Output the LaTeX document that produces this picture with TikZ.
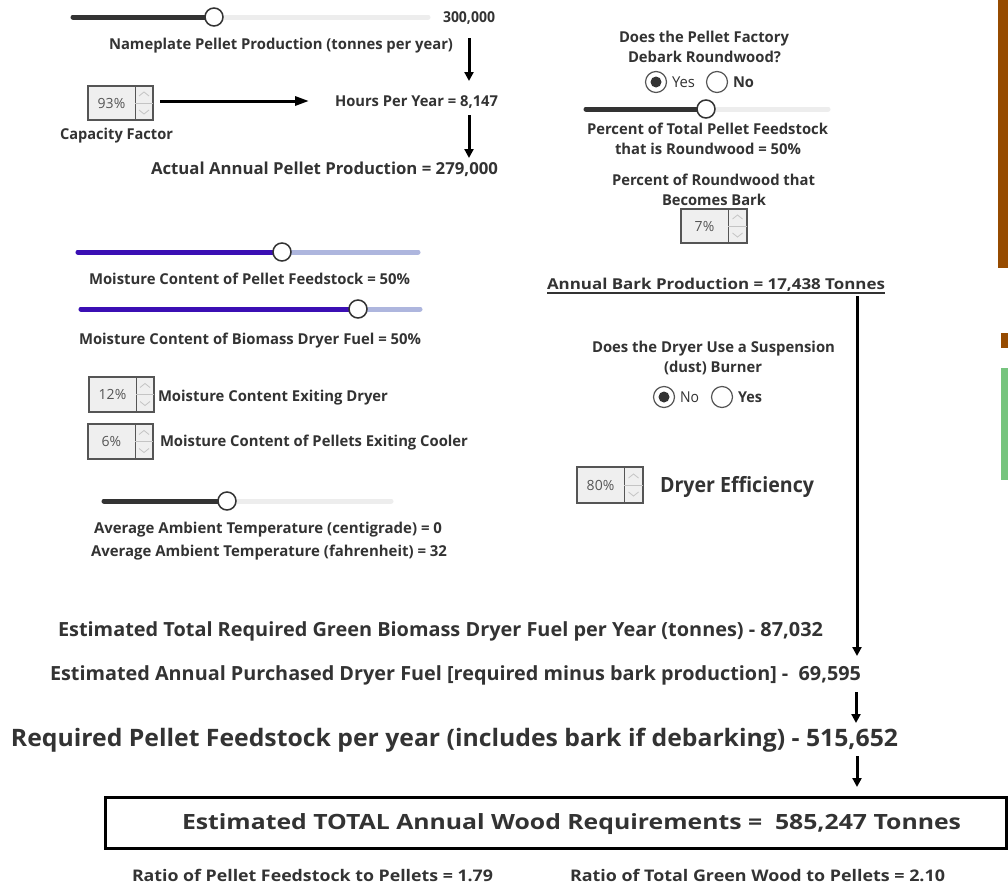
\documentclass[tikz,border=0pt]{standalone}
\usepackage{fontspec}
\setmainfont{Open Sans}
\usepackage{graphicx}
\usetikzlibrary{arrows.meta}
\definecolor{txt}{HTML}{333333}
\definecolor{numtxt}{HTML}{555555}
\definecolor{trackdark}{HTML}{333333}
\definecolor{tracklight}{HTML}{EDEDED}
\definecolor{blued}{RGB}{59,15,180}
\definecolor{bluel}{HTML}{AEB6DE}
\definecolor{spinfill}{HTML}{EFEFEF}
\definecolor{spinedge}{HTML}{555555}
\definecolor{chevc}{HTML}{C4C4C4}
\definecolor{brownbar}{HTML}{964B00}
\definecolor{greenbar}{HTML}{76C47E}
\newcommand\fw[2]{\resizebox{#1pt}{\height}{#2}}
\tikzset{
  lbl/.style={inner sep=0pt, outer sep=0pt, text=txt, anchor=base west, font=\bfseries\fontsize{15}{18}\selectfont},
  lblbig/.style={lbl, font=\bfseries\fontsize{16.5}{20}\selectfont},
  lblfx/.style={lbl, font=\bfseries\fontsize{21}{24}\selectfont},
  lblbot/.style={lbl, font=\bfseries\fontsize{19.5}{23}\selectfont},
  lblhuge/.style={lbl, font=\bfseries\fontsize{24}{28}\selectfont},
  lblratio/.style={lbl, font=\bfseries\fontsize{16}{19}\selectfont},
  radiotxt/.style={lbl, font=\fontsize{15}{18}\selectfont},
  spinbody/.style={draw=spinedge, fill=spinfill, line width=1.2pt, inner sep=0pt, outer sep=0pt},
  spinline/.style={draw=spinedge, line width=1pt},
  chev/.style={draw=chevc, line width=0.8pt},
  spintext/.style={inner sep=0pt, text=numtxt, font=\fontsize{14}{16}\selectfont},
  track/.style={line width=5pt, line cap=round},
  knob/.style={circle, draw=trackdark, fill=white, line width=1.5pt, minimum size=18pt, inner sep=0pt},
  radio/.style={circle, draw=numtxt, fill=white, line width=1.2pt, minimum size=21pt, inner sep=0pt},
  radiodot/.style={circle, fill=txt, minimum size=11pt, inner sep=0pt},
  flow/.style={line width=3pt, -{Triangle[length=9pt,width=9pt]}},
}
\newcommand\spinbox[7]{%
  \pgfmathsetmacro\spw{#4-#2}\pgfmathsetmacro\sph{#5-#3}%
  \pgfmathsetmacro\spmx{(#6+#4)/2}\pgfmathsetmacro\spmy{(#3+#5)/2}%
  \pgfmathsetmacro\sptx{(#2+#6)/2}%
  \node[spinbody, minimum width=\spw pt, minimum height=\sph pt, anchor=north west] (#1) at (#2,#3) {};
  \draw[spinline] (#6,#3) -- (#6,#5);
  \draw[chev] (#6,\spmy) -- (#4,\spmy);
  \draw[chev] (\spmx-5,\spmy-7) -- (\spmx,\spmy-11) -- (\spmx+5,\spmy-7);
  \draw[chev] (\spmx-5,\spmy+7) -- (\spmx,\spmy+11) -- (\spmx+5,\spmy+7);
  \node[spintext] (#1-val) at (\sptx,\spmy) {#7};
}
\newcommand\sliderbar[7]{%
  \draw[track, draw=#6] (#1,#3) -- (#2,#3);
  \draw[track, draw=#5] (#1,#3) -- (#4,#3);
  \node[knob] (#7) at (#4,#3) {};
}
\begin{document}
\begin{tikzpicture}[x=1pt,y=-1pt]
\useasboundingbox (0,0) rectangle (1008,894);
\fill[white] (0,0) rectangle (1008,894);

% right edge bars
\fill[brownbar] (998,0) rectangle (1008,268);
\fill[brownbar] (1001,333) rectangle (1008,348);
\fill[greenbar] (1001,368) rectangle (1008,480);

% ---------- top left ----------
\sliderbar{73}{428}{17}{214}{trackdark}{tracklight}{sNameplate}
\node[lbl] (v300) at (443,22) {\fw{52}{300,000}};
\node[lbl] (nameplate) at (109,49) {\fw{344}{Nameplate Pellet Production (tonnes per year)}};
\spinbox{cf}{88}{86}{153}{120}{135}{93\%}
\node[lbl] (capfac) at (60,139) {\fw{113}{Capacity Factor}};
\node[lbl] (hours) at (335,106) {\fw{163}{Hours Per Year = 8,147}};
\node[lblbig] (actual) at (151,174) {\fw{347}{Actual Annual Pellet Production = 279,000}};
\coordinate (a1s) at (469,38);
\coordinate (a1e) at (469,81);
\coordinate (a2s) at (469,115);
\coordinate (a2e) at (469,158);
\coordinate (a3s) at (160,101);
\coordinate (a3e) at (309,101);
\draw[flow] (a1s) -- (a1e);
\draw[flow] (a2s) -- (a2e);
\draw[line width=3pt, -{Triangle[length=14pt,width=9pt]}] (a3s) -- (a3e);

% ---------- top right ----------
\node[lbl] (debark1) at (619,42) {\fw{170}{Does the Pellet Factory}};
\node[lbl] (debark2) at (628,62) {\fw{153}{Debark Roundwood?}};
\node[radio] (rYes) at (656,82) {};
\node[radiodot] at (rYes) {};
\node[radiotxt] (tYes) at (672,87) {\fw{23}{Yes}};
\node[radio] (rNo) at (717,82) {};
\node[lbl] (tNo) at (733,87) {\fw{21}{No}};
\sliderbar{586}{828}{109}{706}{trackdark}{tracklight}{sRound}
\node[lbl] (pct1) at (587,134) {\fw{241}{Percent of Total Pellet Feedstock}};
\node[lbl] (pct2) at (615,154) {\fw{186}{that is Roundwood = 50\%}};
\node[lbl] (bark1) at (612,185) {\fw{203}{Percent of Roundwood that}};
\node[lbl] (bark2) at (662,205) {\fw{104}{Becomes Bark}};
\spinbox{bk}{681}{209}{747}{243}{728}{7\%}
\node[lbl] (barkprod) at (547,289) {\fw{338}{Annual Bark Production = 17,438 Tonnes}};
\draw[txt, line width=1.3pt] (barkprod.base west) ++(0,4) -- ++(338,0);

% ---------- middle left ----------
\sliderbar{78}{418}{252}{282}{blued}{bluel}{sMoist1}
\node[lbl] (moist1) at (89,284) {\fw{321}{Moisture Content of Pellet Feedstock = 50\%}};
\sliderbar{81}{420}{309}{358}{blued}{bluel}{sMoist2}
\node[lbl] (moist2) at (79,344) {\fw{342}{Moisture Content of Biomass Dryer Fuel = 50\%}};
\spinbox{md}{89}{377}{154}{412}{136}{12\%}
\node[lbl] (mdry) at (158,401) {\fw{230}{Moisture Content Exiting Dryer}};
\spinbox{mc}{88}{424}{153}{459}{135}{6\%}
\node[lbl] (mcool) at (160,446) {\fw{308}{Moisture Content of Pellets Exiting Cooler}};
\sliderbar{104}{391}{501}{227}{trackdark}{tracklight}{sTemp}
\node[lbl] (tempc) at (94,533) {\fw{348}{Average Ambient Temperature (centigrade) = 0}};
\node[lbl] (tempf) at (91,556) {\fw{356}{Average Ambient Temperature (fahrenheit) = 32}};

% ---------- middle right ----------
\node[lbl] (susp1) at (592,352) {\fw{243}{Does the Dryer Use a Suspension}};
\node[lbl] (susp2) at (664,372) {\fw{98}{(dust) Burner}};
\node[radio] (rNo2) at (664,397) {};
\node[radiodot] at (rNo2) {};
\node[radiotxt] (tNo2) at (680,402) {\fw{19}{No}};
\node[radio] (rYes2) at (722,397) {};
\node[lbl] (tYes2) at (738,402) {\fw{24}{Yes}};
\spinbox{de}{577}{467}{643}{503}{624}{80\%}
\node[lblfx] (dryeff) at (660,492) {\fw{154}{Dryer Efficiency}};

% ---------- bottom ----------
\coordinate (b1s) at (857,296);
\coordinate (b1e) at (857,656);
\draw[flow] (b1s) -- (b1e);
\node[lblbot] (fuel) at (58,636) {\fw{765}{Estimated Total Required Green Biomass Dryer Fuel per Year (tonnes) - 87,032}};
\node[lblbot] (purch) at (50,680) {\fw{811}{Estimated Annual Purchased Dryer Fuel [required minus bark production] - \ 69,595}};
\coordinate (b2s) at (856,692);
\coordinate (b2e) at (856,723);
\draw[flow] (b2s) -- (b2e);
\node[lblhuge] (feed) at (11,746) {\fw{887}{Required Pellet Feedstock per year (includes bark if debarking) - 515,652}};
\coordinate (b3s) at (857,756);
\coordinate (b3e) at (857,787);
\draw[flow] (b3s) -- (b3e);
\node[draw=black, line width=3pt, minimum width=901pt, minimum height=51pt, inner sep=0pt, anchor=north west] (totbox) at (104,796) {};
\node[lblfx] (total) at (182,829) {\fw{779}{Estimated TOTAL Annual Wood Requirements = \ 585,247 Tonnes}};
\node[lblratio] (ratio1) at (132,881) {\fw{361}{Ratio of Pellet Feedstock to Pellets = 1.79}};
\node[lblratio] (ratio2) at (570,881) {\fw{375}{Ratio of Total Green Wood to Pellets = 2.10}};
\end{tikzpicture}
\end{document}
